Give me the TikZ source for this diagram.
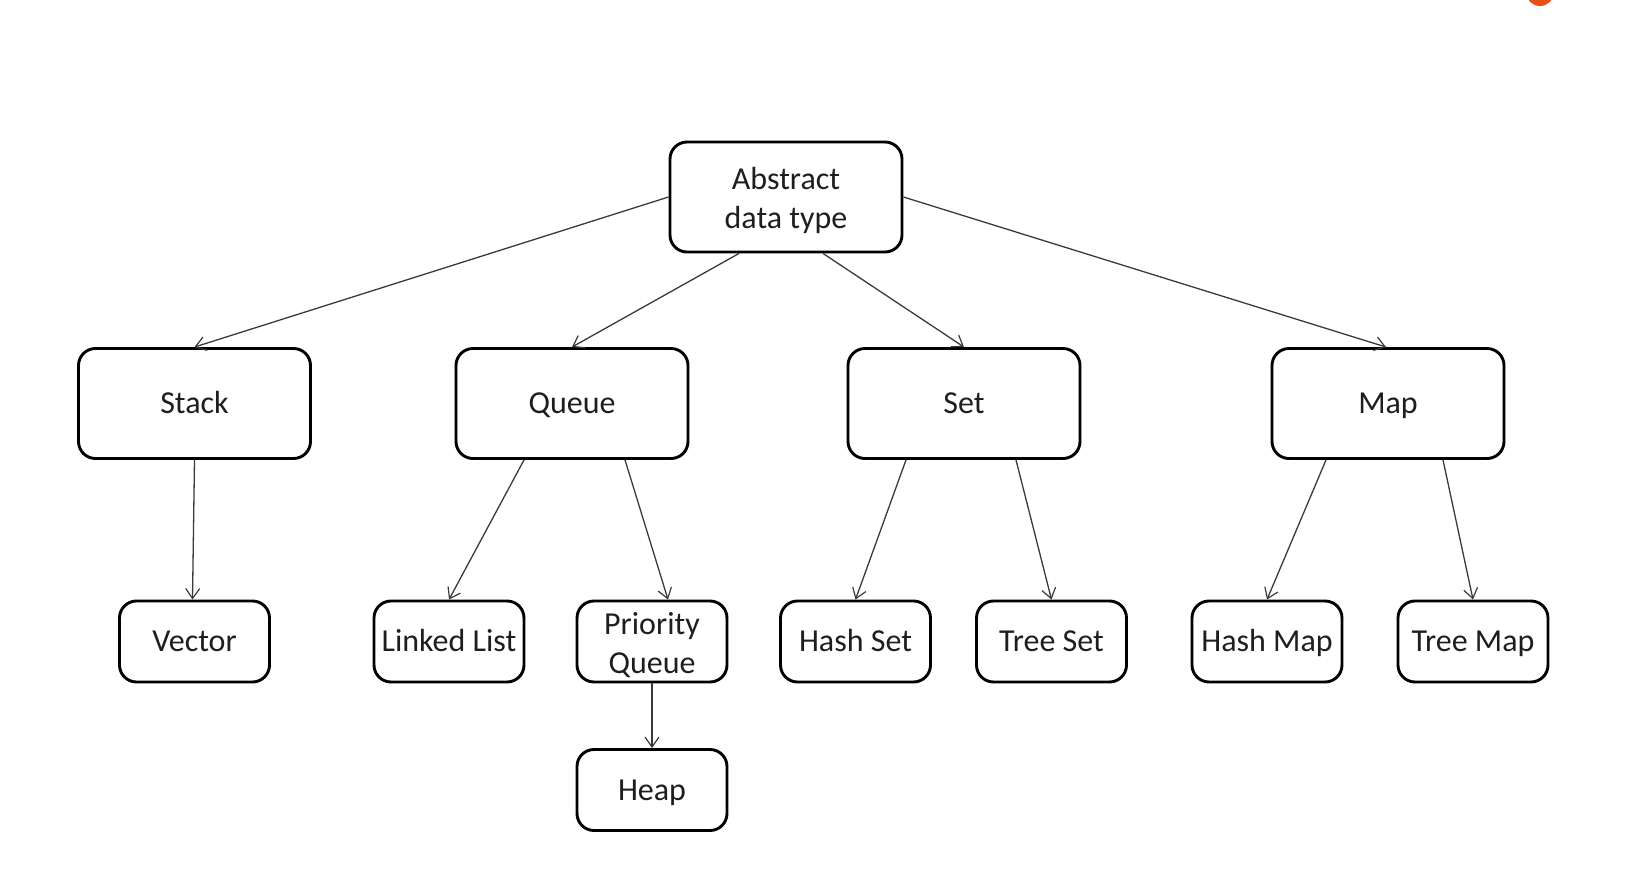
\documentclass[tikz,border=0pt]{standalone}
\usepackage{fontspec}
\setmainfont{Carlito}
\usetikzlibrary{arrows.meta,calc}
\definecolor{txt}{HTML}{1E1E1E}
\definecolor{edge}{HTML}{3A3A3A}
\definecolor{blob}{HTML}{E8501A}
\newcommand{\upstrut}{\rule{0pt}{29pt}}
\begin{document}
\begin{tikzpicture}[x=1pt,y=-1pt,
  box/.style={draw=black,line width=2.9pt,rounded corners=17pt,fill=white,
    text=txt,inner sep=0pt,font=\fontsize{32}{38.5}\selectfont},
  one/.style={text height=20pt,text depth=0pt},
  two/.style={align=center},
  big/.style={box,minimum width=232pt,minimum height=110pt},
  small/.style={box,minimum width=150pt,minimum height=81pt},
  conn/.style={draw=edge,line width=1.3pt,-{Straight Barb[length=10pt,width=14pt,line width=1.2pt]}}]
\useasboundingbox (0,0) rectangle (1634,896);
\fill[blob] (1540,-8) circle (14);
\node[big,two] (abs) at (786,197) {\upstrut Abstract\\data type};
\node[big,one] (stack) at (194.5,403.5) {Stack};
\node[big,one] (queue) at (572,403.5) {Queue};
\node[big,one] (set) at (964,403.5) {Set};
\node[big,one] (map) at (1388,403.5) {Map};
\node[small,one] (vector) at (194.5,641.5) {Vector};
\node[small,one] (ll) at (449,641.5) {Linked List};
\node[small,two] (pq) at (652,641.5) {\upstrut Priority\\Queue};
\node[small,one] (hs) at (855.5,641.5) {Hash Set};
\node[small,one] (ts) at (1051.5,641.5) {Tree Set};
\node[small,one] (hm) at (1267,641.5) {Hash Map};
\node[small,one] (tm) at (1473,641.5) {Tree Map};
\node[small,one] (heap) at (652,790) {Heap};
\draw[conn] (abs.west) -- (stack.north);
\draw[conn] ([xshift=-47pt]abs.south) -- (queue.north);
\draw[conn] ([xshift=37pt]abs.south) -- (set.north);
\draw[conn] (abs.east) -- ([xshift=-2pt]map.north);
\draw[conn] (stack.south) -- ([xshift=-2pt]vector.north);
\draw[conn] ([xshift=-48pt]queue.south) -- (ll.north);
\draw[conn] ([xshift=53pt]queue.south) -- ([xshift=16pt]pq.north);
\draw[conn] ([xshift=-58pt]set.south) -- (hs.north);
\draw[conn] ([xshift=52pt]set.south) -- (ts.north);
\draw[conn] ([xshift=-62pt]map.south) -- (hm.north);
\draw[conn] ([xshift=55pt]map.south) -- (tm.north);
\draw[conn] (pq.south) -- (heap.north);
\end{tikzpicture}
\end{document}
